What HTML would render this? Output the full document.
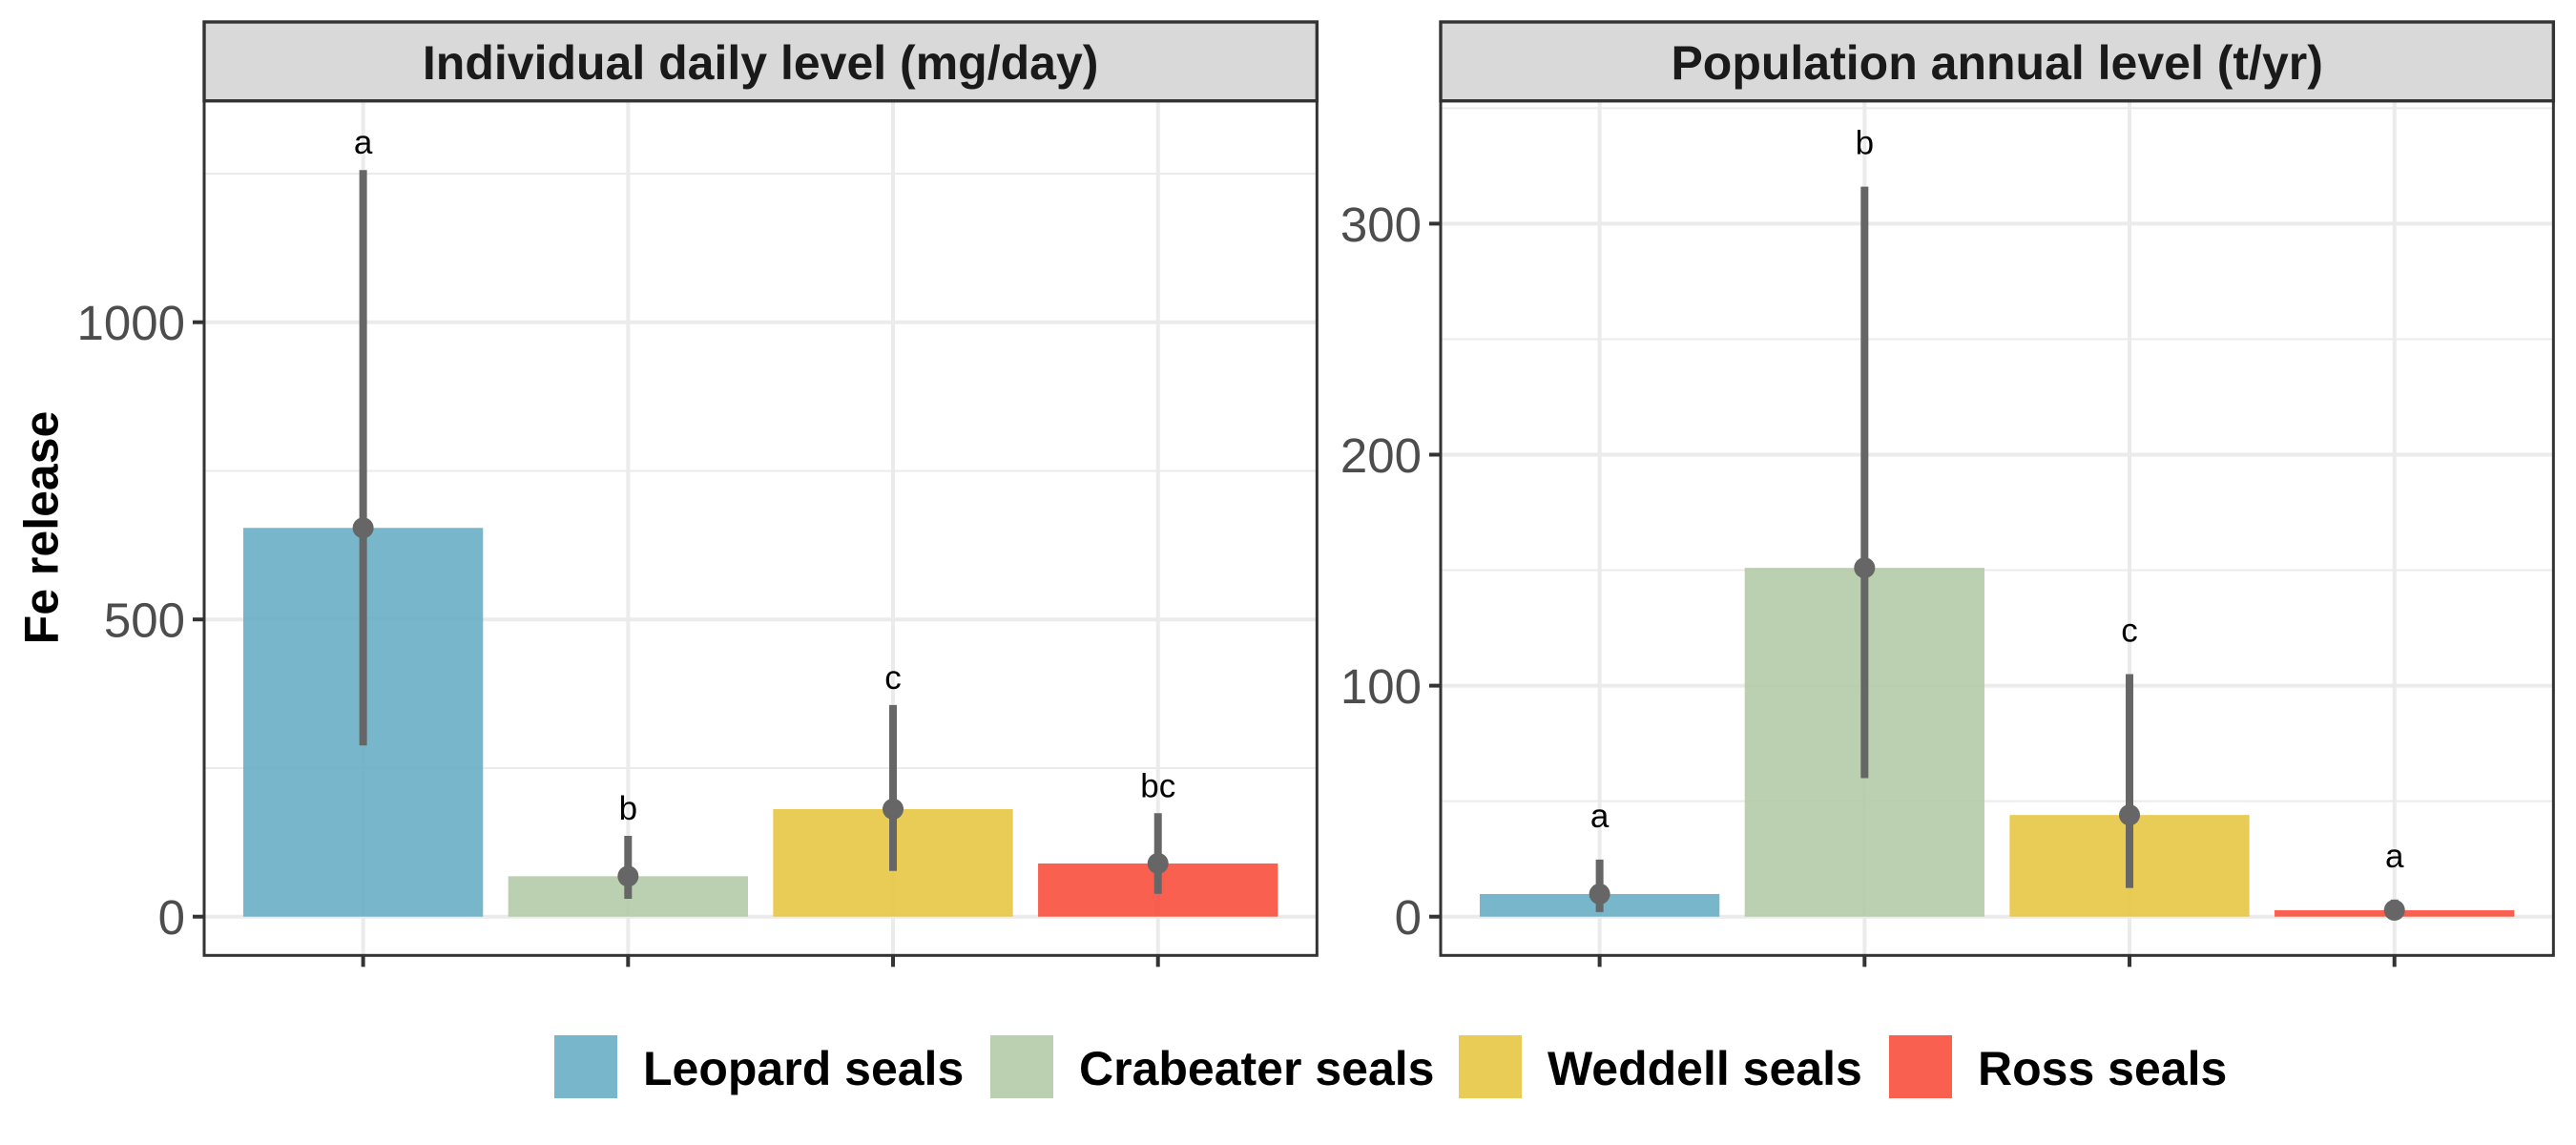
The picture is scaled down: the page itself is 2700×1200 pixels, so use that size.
<!DOCTYPE html>
<html>
<head>
<meta charset="utf-8">
<title>Fe release by seal species</title>
<style>
html,body{margin:0;padding:0;background:#fff}
svg{display:block}
text{font-family:"Liberation Sans",Arial,sans-serif}
</style>
</head>
<body>
<svg id="chart" xmlns="http://www.w3.org/2000/svg" width="2700" height="1200" viewBox="0 0 2700 1200">
  <rect x="0" y="0" width="2700" height="1200" fill="#ffffff"/>
  <text transform="translate(60.5,553) rotate(-90)" text-anchor="middle" font-size="50" font-weight="700" fill="#000">Fe release</text>
  <g id="panels"></g>
  <g id="legend"></g>
</svg>
<script>
const species = ["Leopard seals", "Crabeater seals", "Weddell seals", "Ross seals"];
const colors = ["#69AEC5", "#B2CBA8", "#E7C644", "#F84F3C"];

const dailyTitle = "Individual daily level (mg/day)";
const dailyMeans = [654, 68, 181, 89.5];
const dailyHigh = [1256, 136, 356, 174];
const dailyLow = [288, 30, 77, 38.5];
const dailyLetters = ["a", "b", "c", "bc"];
const dailyMajorTicks = [0, 500, 1000];
const dailyMinorTicks = [250, 750, 1250];

const annualTitle = "Population annual level (t/yr)";
const annualMeans = [9.8, 151, 44, 2.8];
const annualHigh = [24.7, 316, 105, 7.4];
const annualLow = [2, 60, 12.4, 1];
const annualLetters = ["a", "b", "c", "a"];
const annualMajorTicks = [0, 100, 200, 300];
const annualMinorTicks = [50, 150, 250, 350];

const NS = "http://www.w3.org/2000/svg";
const PANEL_TOP = 105.7, PANEL_BOTTOM = 1001.3, STRIP_TOP = 23, ZERO_Y = 960.7;

function make(parent, tag, attrs, txt) {
  const el = document.createElementNS(NS, tag);
  for (const k in attrs) el.setAttribute(k, attrs[k]);
  if (txt !== undefined) el.textContent = txt;
  parent.appendChild(el);
  return el;
}

function drawPanel(cfg) {
  const root = document.getElementById("panels");
  const g = make(root, "g", {});
  
  

  const xScale = i => cfg.left + (0.6 + i) * cfg.step;
  const yScale = v => ZERO_Y - v * cfg.pxPerUnit;
  const right = cfg.left + 4.2 * cfg.step;
  const barWidth = 0.905 * cfg.step;

  cfg.minor.forEach(v => {
    const el = make(g, "line", {x1: cfg.left, x2: right, y1: yScale(v), y2: yScale(v), stroke: "#EBEBEB", "stroke-width": 2});
    
    
  });
  cfg.major.forEach(v => {
    const el = make(g, "line", {x1: cfg.left, x2: right, y1: yScale(v), y2: yScale(v), stroke: "#EBEBEB", "stroke-width": 4});
    
    
  });
  species.forEach((s, i) => {
    const el = make(g, "line", {x1: xScale(i), x2: xScale(i), y1: PANEL_TOP, y2: PANEL_BOTTOM, stroke: "#EBEBEB", "stroke-width": 4});
    
    
  });

  species.forEach((s, i) => {
    const bar = make(g, "rect", {x: xScale(i) - barWidth / 2, y: yScale(cfg.means[i]), width: barWidth, height: ZERO_Y - yScale(cfg.means[i]), fill: colors[i], "fill-opacity": 0.9});
    
    
  });
  species.forEach((s, i) => {
    const ci = make(g, "line", {x1: xScale(i), x2: xScale(i), y1: yScale(cfg.high[i]), y2: yScale(cfg.low[i]), stroke: "#666666", "stroke-width": 8});
    
    
    const pt = make(g, "circle", {cx: xScale(i), cy: yScale(cfg.means[i]), r: 11, fill: "#666666"});
    
    
    const lab = make(g, "text", {x: xScale(i), y: yScale(cfg.high[i]) - cfg.labelGap, "text-anchor": "middle", "font-size": 35, fill: "#000"}, cfg.letters[i]);
    
    
  });

  const border = make(g, "rect", {x: cfg.left, y: PANEL_TOP, width: right - cfg.left, height: PANEL_BOTTOM - PANEL_TOP, fill: "none", stroke: "#333333", "stroke-width": 3});
  
  

  const strip = make(g, "rect", {x: cfg.left, y: STRIP_TOP, width: right - cfg.left, height: PANEL_TOP - STRIP_TOP, fill: "#D9D9D9", stroke: "#333333", "stroke-width": 3.4});
  
  
  const title = make(g, "text", {x: (cfg.left + right) / 2, y: 83, "text-anchor": "middle", "font-size": 50, "font-weight": 700, fill: "#1A1A1A"}, cfg.title);
  
  

  cfg.major.forEach(v => {
    const tick = make(g, "line", {x1: cfg.left - 12, x2: cfg.left, y1: yScale(v), y2: yScale(v), stroke: "#333333", "stroke-width": 4});
    
    
    const lab = make(g, "text", {x: cfg.left - 20, y: yScale(v) + 18.5, "text-anchor": "end", "font-size": 51, fill: "#4D4D4D"}, String(v));
    
    
  });
  species.forEach((s, i) => {
    const tick = make(g, "line", {x1: xScale(i), x2: xScale(i), y1: PANEL_BOTTOM, y2: PANEL_BOTTOM + 12, stroke: "#333333", "stroke-width": 4});
    
    
  });
}

drawPanel({name: "daily-panel", left: 214, step: 277.7, pxPerUnit: 0.623, labelGap: 17, title: dailyTitle, means: dailyMeans, high: dailyHigh, low: dailyLow, letters: dailyLetters, major: dailyMajorTicks, minor: dailyMinorTicks});
drawPanel({name: "annual-panel", left: 1510, step: 277.7, pxPerUnit: 2.421, labelGap: 34, title: annualTitle, means: annualMeans, high: annualHigh, low: annualLow, letters: annualLetters, major: annualMajorTicks, minor: annualMinorTicks});

const legendRoot = document.getElementById("legend");
const legendKeyLefts = [581, 1038, 1529, 1980];
species.forEach((s, i) => {
  const key = make(legendRoot, "rect", {x: legendKeyLefts[i], y: 1085, width: 66, height: 66, fill: colors[i], "fill-opacity": 0.9});
  
  
  const lab = make(legendRoot, "text", {x: legendKeyLefts[i] + 93, y: 1137, "font-size": 50, "font-weight": 700, fill: "#000"}, s);
  
  
});
</script>
</body>
</html>
